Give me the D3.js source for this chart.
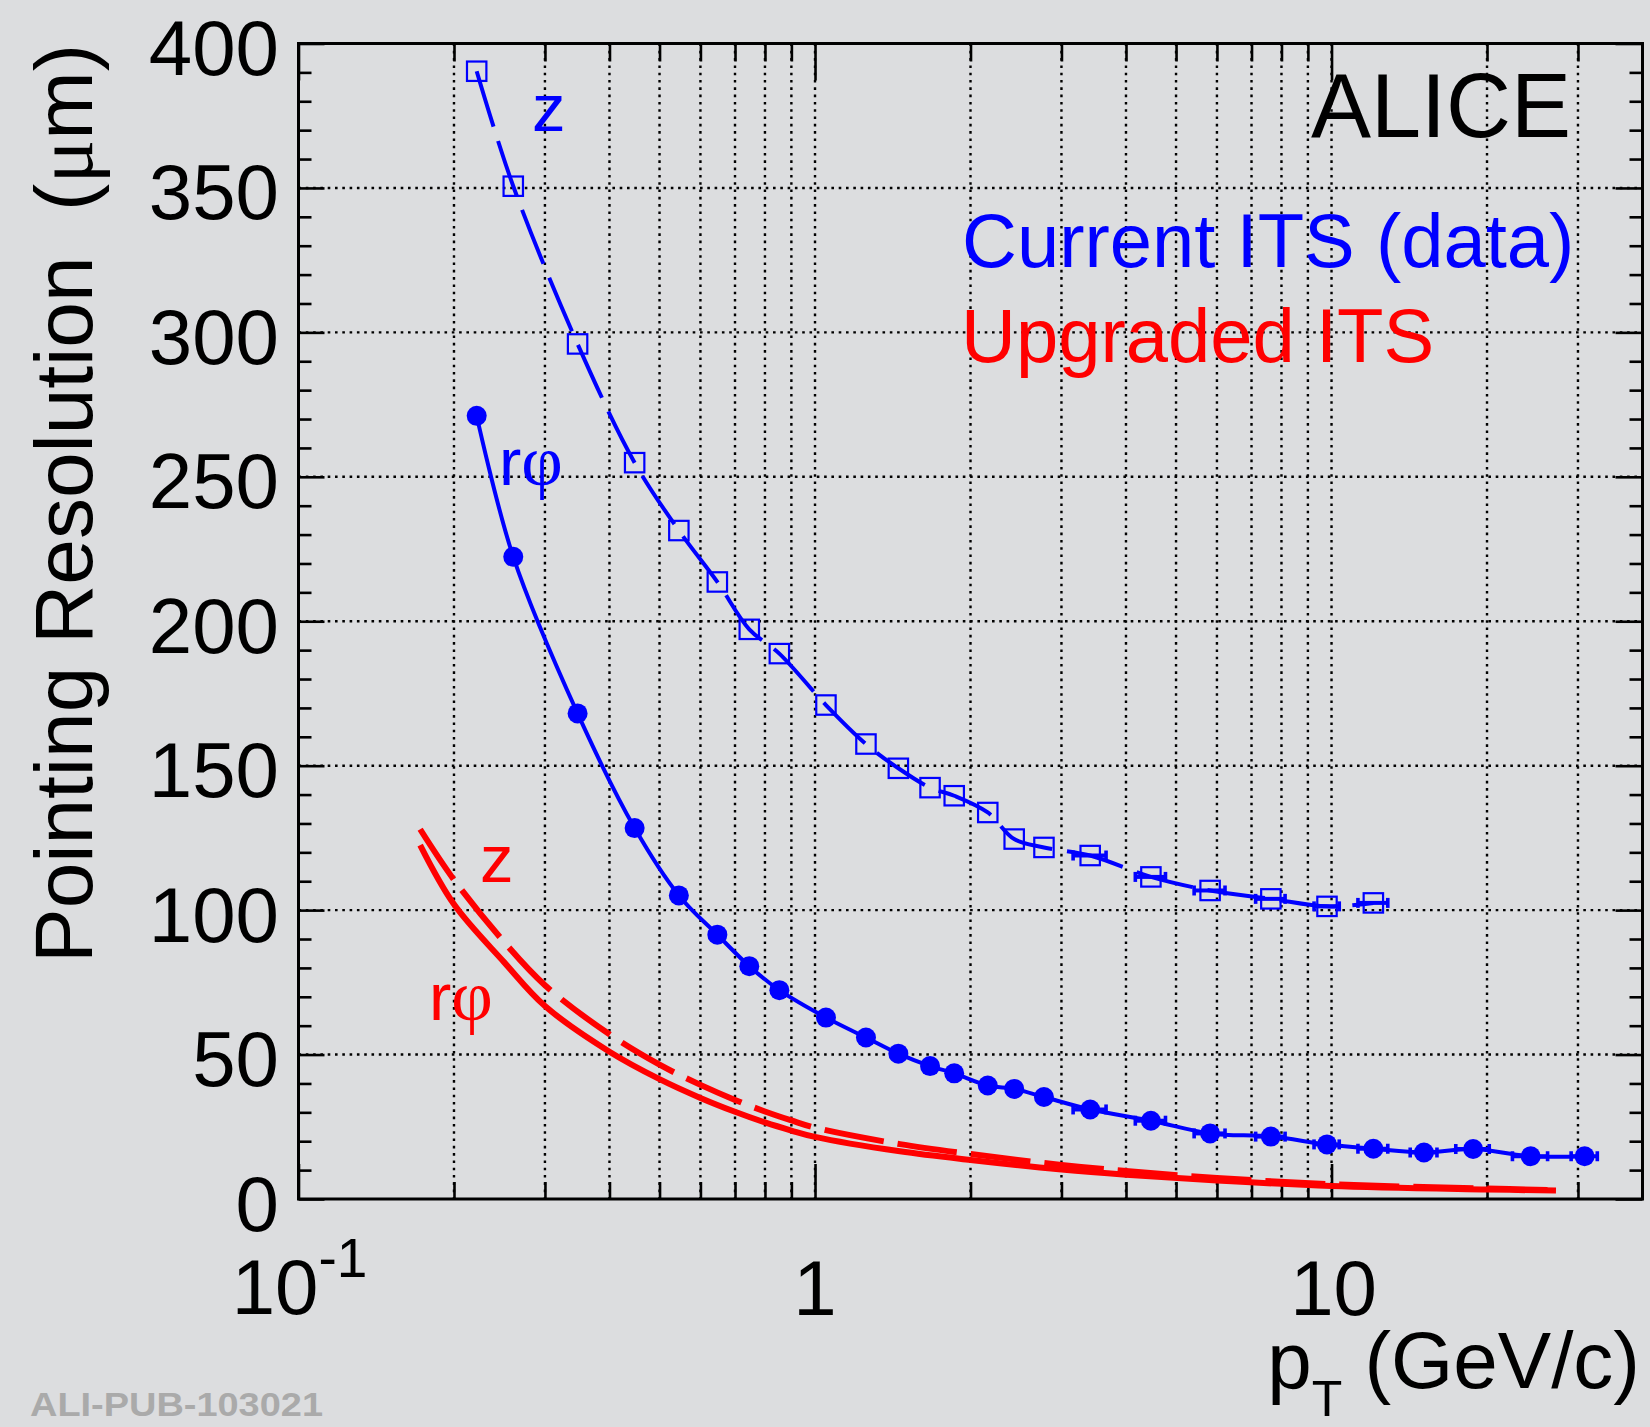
<!DOCTYPE html>
<html><head><meta charset="utf-8">
<script src="https://cdn.jsdelivr.net/npm/d3@7"></script>
<style>
html,body{margin:0;padding:0;background:#dcdddf;}
svg{display:block;}
text{font-family:"Liberation Sans",Arial,Helvetica,sans-serif;}
</style></head><body>
<svg id="c" width="1650" height="1427"></svg>
<script>
// ---------- data ----------
const ptBins = [0.2213, 0.2605, 0.347, 0.4475, 0.545, 0.647, 0.746, 0.853, 1.05, 1.255, 1.45, 1.67, 1.86, 2.16, 2.43, 2.775, 3.41, 4.47, 5.82, 7.63, 9.8, 12.05, 15.1, 18.8, 24.3, 30.9];
const currentRphi = [271.1, 222.3, 168.1, 128.4, 105.1, 91.5, 80.6, 72.3, 62.8, 55.9, 50.3, 46.0, 43.5, 39.3, 38.1, 35.3, 31.0, 27.1, 22.7, 21.6, 18.9, 17.4, 16.1, 17.3, 14.8, 14.8];
const currentZ = [390.4, 350.6, 296.0, 254.9, 231.4, 213.6, 197.2, 188.8, 171.0, 157.5, 149.1, 142.4, 139.6, 133.8, 124.6, 121.7, 118.9, 111.5, 106.8, 103.9, 101.3, 102.5];
const binHalfWidth = [0, 0, 0, 0, 0, 0, 0, 0, 0, 0, 0, 0, 0, 0, 0, 0, 0.25, 0.3, 0.4, 0.5, 0.55, 0.8, 0.9, 1.4, 1.9, 1.8];

const upgradedPt = [0.172, 0.2, 0.25, 0.3, 0.4, 0.5, 0.6, 0.7, 0.8, 0.9, 1.0, 1.46, 2, 3, 4, 6, 10, 20, 27.2];
const upgradedRphi = [122.5, 102.0, 82.0, 66.8, 51.0, 41.5, 35.0, 30.2, 26.5, 23.7, 21.5, 16.5, 13.5, 10.2, 8.4, 6.4, 4.5, 3.3, 2.9];
const upgradedZ = [128.0, 110.5, 89.0, 74.0, 57.0, 46.5, 39.5, 34.3, 30.3, 27.2, 24.7, 19.0, 15.6, 11.8, 9.7, 7.3, 5.1, 3.6, 3.1];

const xMajorTicks = [0.1, 1, 10];
const xMinorTicks = [0.2, 0.3, 0.4, 0.5, 0.6, 0.7, 0.8, 0.9, 2, 3, 4, 5, 6, 7, 8, 9, 20, 30];
const yMajorTicks = [0, 50, 100, 150, 200, 250, 300, 350, 400];
const yMinorTicks = d3.range(0, 401, 10).filter(v => v % 50 !== 0);

// ---------- layout ----------
const svg = d3.select("#c");
const W = 1650, H = 1427;
const L = 298.5, R = 1642.5, T = 43.5, B = 1199;
const BLUE = "#0000ff", RED = "#ff0000";

svg.append("rect").attr("width", W).attr("height", H).attr("fill", "#dcdddf");

const x = d3.scaleLog().domain([0.1, 40]).range([L, R]);
const y = d3.scaleLinear().domain([0, 400]).range([B, T]);

// ---------- grid ----------
const grid = svg.append("g").attr("stroke", "#000").attr("stroke-width", 2.4)
  .attr("stroke-dasharray", "2.6,4.7").attr("fill", "none");
grid.selectAll("line.gx").data(xMinorTicks.concat([1, 10])).join("line")
  .attr("x1", d => x(d)).attr("x2", d => x(d)).attr("y1", T).attr("y2", B);
grid.selectAll("line.gy").data(yMajorTicks.filter(v => v > 0 && v < 400)).join("line")
  .attr("class", "gy")
  .attr("y1", d => y(d)).attr("y2", d => y(d)).attr("x1", L).attr("x2", R);

// ---------- axes ticks ----------
function ticks(axisGen, transform, values, size) {
  const g = svg.append("g").attr("transform", transform)
    .call(axisGen.tickValues(values).tickSizeInner(size).tickSizeOuter(0).tickFormat(""));
  g.select(".domain").remove();
  g.selectAll(".tick line").attr("stroke", "#000").attr("stroke-width", 2.6);
}
ticks(d3.axisBottom(x), `translate(0,${B})`, xMinorTicks, -17);
ticks(d3.axisBottom(x), `translate(0,${B})`, xMajorTicks, -35);
ticks(d3.axisTop(x), `translate(0,${T})`, xMinorTicks, -18);
ticks(d3.axisTop(x), `translate(0,${T})`, xMajorTicks, -37);
ticks(d3.axisLeft(y), `translate(${L},0)`, yMinorTicks, -13);
ticks(d3.axisLeft(y), `translate(${L},0)`, yMajorTicks, -26);
ticks(d3.axisRight(y), `translate(${R},0)`, yMinorTicks, -13);
ticks(d3.axisRight(y), `translate(${R},0)`, yMajorTicks, -27);

// ---------- upgraded ITS curves ----------
const upg = upgradedPt.map((p, i) => ({p, r: upgradedRphi[i], z: upgradedZ[i]}));
const lineR = d3.line().x(d => x(d.p)).y(d => y(d.r)).curve(d3.curveCatmullRom.alpha(0.5));
const lineZ = d3.line().x(d => x(d.p)).y(d => y(d.z)).curve(d3.curveCatmullRom.alpha(0.5));
svg.append("path").attr("d", lineR(upg)).attr("fill", "none").attr("stroke", RED).attr("stroke-width", 6);
svg.append("path").attr("d", lineZ(upg)).attr("fill", "none").attr("stroke", RED).attr("stroke-width", 6)
  .attr("stroke-dasharray", "60,14");

// ---------- current ITS data ----------
const rphiPts = ptBins.map((p, i) => ({p, v: currentRphi[i], e: binHalfWidth[i]}));
const zPts = currentZ.map((v, i) => ({p: ptBins[i], v, e: binHalfWidth[i]}));
const gl = d3.line().x(d => x(d.p)).y(d => y(d.v)).curve(d3.curveCatmullRom.alpha(0.5));

svg.append("path").attr("d", gl(zPts)).attr("fill", "none").attr("stroke", BLUE).attr("stroke-width", 4)
  .attr("stroke-dasharray", "58,15");
svg.append("path").attr("d", gl(rphiPts)).attr("fill", "none").attr("stroke", BLUE).attr("stroke-width", 4);

function errBars(pts) {
  const e = pts.filter(d => d.e > 0);
  const g = svg.append("g").attr("fill", BLUE);
  g.selectAll("line").data(e).join("line")
    .attr("x1", d => x(d.p - d.e)).attr("x2", d => x(d.p + d.e))
    .attr("y1", d => y(d.v)).attr("y2", d => y(d.v))
    .attr("stroke", BLUE).attr("stroke-width", 4);
  g.selectAll("rect.l").data(e).join("rect").attr("class", "l")
    .attr("x", d => x(d.p - d.e) - 1.8).attr("y", d => y(d.v) - 5).attr("width", 3.6).attr("height", 10);
  g.selectAll("rect.r").data(e).join("rect").attr("class", "r")
    .attr("x", d => x(d.p + d.e) - 1.8).attr("y", d => y(d.v) - 5).attr("width", 3.6).attr("height", 10);
}
errBars(zPts);
errBars(rphiPts);

svg.append("g").selectAll("rect").data(zPts).join("rect")
  .attr("x", d => x(d.p) - 9.7).attr("y", d => y(d.v) - 9.7).attr("width", 19.4).attr("height", 19.4)
  .attr("fill", "none").attr("stroke", BLUE).attr("stroke-width", 2.2);
svg.append("g").selectAll("circle").data(rphiPts).join("circle")
  .attr("cx", d => x(d.p)).attr("cy", d => y(d.v)).attr("r", 10).attr("fill", BLUE);

// ---------- frame ----------
svg.append("rect").attr("x", L).attr("y", T).attr("width", R - L).attr("height", B - T)
  .attr("fill", "none").attr("stroke", "#000").attr("stroke-width", 3);

// ---------- tick labels ----------
svg.append("g").selectAll("text").data(yMajorTicks).join("text")
  .attr("x", 279).attr("y", d => y(d) + 31.5).attr("text-anchor", "end")
  .attr("font-size", 78).attr("fill", "#000").text(d => d);

const xl = svg.append("g").attr("font-size", 78).attr("fill", "#000").attr("text-anchor", "middle");
const t01 = xl.append("text").attr("x", x(0.1) + 1).attr("y", 1314);
t01.append("tspan").text("10");
t01.append("tspan").attr("font-size", 55).attr("dy", -37).text("-1");
xl.append("text").attr("x", x(1)).attr("y", 1315).text("1");
xl.append("text").attr("x", x(10) + 2).attr("y", 1315).text("10");

// ---------- axis titles ----------
const xt = svg.append("text").attr("x", 1640).attr("y", 1388).attr("text-anchor", "end")
  .attr("font-size", 80).attr("fill", "#000");
xt.append("tspan").text("p");
xt.append("tspan").attr("font-size", 50).attr("dy", 28).text("T");
xt.append("tspan").attr("font-size", 80).attr("dy", -28).text("\u00A0(GeV/c)");

const yt = svg.append("text").attr("transform", "translate(92,44) rotate(-90)")
  .attr("text-anchor", "end").attr("font-size", 82).attr("fill", "#000");
yt.append("tspan").text("Pointing Resolution\u00A0 (");
yt.append("tspan").attr("font-family", "Liberation Serif, serif").text("\u03BC");
yt.append("tspan").text("m)");

// ---------- annotations ----------
svg.append("text").attr("x", 1571).attr("y", 137).attr("text-anchor", "end")
  .attr("font-size", 90).attr("fill", "#000").text("ALICE");
svg.append("text").attr("x", 962).attr("y", 267).attr("font-size", 76).attr("fill", BLUE).text("Current ITS (data)");
svg.append("text").attr("x", 961).attr("y", 362).attr("font-size", 76).attr("fill", RED).text("Upgraded ITS");

function rphiLabel(px, py, col) {
  const t = svg.append("text").attr("x", px).attr("y", py).attr("font-size", 67).attr("fill", col);
  t.append("tspan").text("r");
  t.append("tspan").attr("font-family", "Liberation Serif, serif").attr("font-size", 72).text("\u03C6");
}
svg.append("text").attr("x", 532).attr("y", 131).attr("font-size", 67).attr("fill", BLUE).text("z");
rphiLabel(499, 485, BLUE);
svg.append("text").attr("x", 480).attr("y", 882).attr("font-size", 67).attr("fill", RED).text("z");
rphiLabel(429, 1020, RED);

svg.append("text").attr("x", 30).attr("y", 1416).attr("font-size", 33).attr("font-weight", "bold")
  .attr("font-family", "Liberation Mono, Courier New, monospace").attr("fill", "#aaaaaa")
  .attr("textLength", 293).attr("lengthAdjust", "spacingAndGlyphs").text("ALI-PUB-103021");
</script>
</body></html>
